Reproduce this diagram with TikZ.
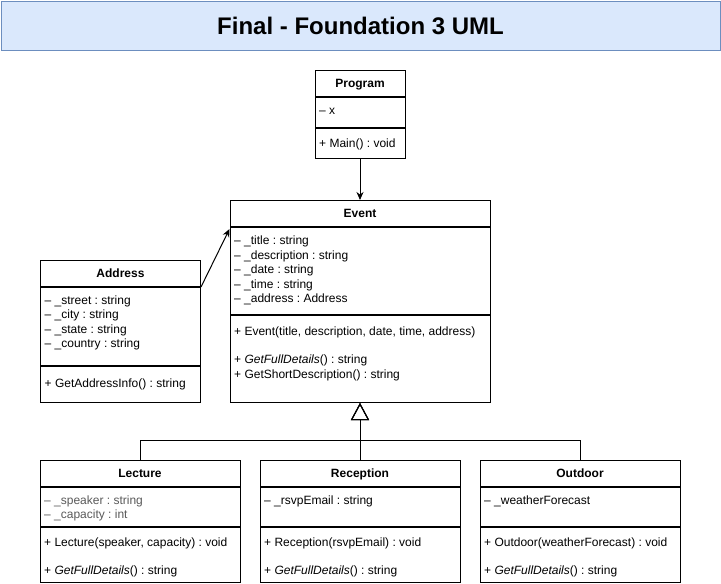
\documentclass[tikz,border=0pt]{standalone}
\usepackage{fontspec}
\setmainfont{Liberation Sans}
\usetikzlibrary{arrows.meta}
\definecolor{titlefill}{HTML}{DAE8FC}
\definecolor{titledraw}{HTML}{6C8EBF}
\definecolor{attrgray}{HTML}{5A5A5A}
\frenchspacing
\tikzset{
  titlebox/.style={draw=titledraw, fill=titlefill, line width=1pt, inner sep=0pt, font=\fontsize{24}{28}\selectfont\bfseries},
  hdr/.style={draw, line width=1pt, fill=white, inner sep=0pt, minimum height=26pt, text height=9pt, text depth=0.5pt, font=\fontsize{12}{14}\selectfont\bfseries},
  cmp/.style={draw, line width=1pt, fill=white, inner sep=0pt},
  txt/.style={anchor=base west, inner sep=0pt, font=\fontsize{12}{14}\selectfont},
  gtxt/.style={txt, text=attrgray},
  assoc/.style={line width=1pt, -{Stealth[length=8pt,width=7pt]}},
  inh/.style={line width=1pt, -{Triangle[open,length=17pt,width=18pt,line width=1pt]}}
}
\begin{document}
\begin{tikzpicture}[x=1pt,y=-1pt]
\useasboundingbox (0,0) rectangle (721,584);
\fill[white] (0,0) rectangle (721,584);

% title
\node[titlebox, minimum width=719pt, minimum height=49pt, anchor=north west] (title) at (0.5,0.5) {Final - Foundation 3 UML};

% Program
\node[hdr, minimum width=90pt, anchor=north] (progH) at (360,70) {Program};
\node[cmp, minimum width=90pt, minimum height=30pt, anchor=north] (progA) at (progH.south) {};
\node[cmp, minimum width=90pt, minimum height=30pt, anchor=north] (progM) at (progA.south) {};
\node[txt] (progA1) at (319,114.5) {\textendash{} x};
\node[txt] (progM1) at (319,147.5) {+ Main() : void};

% Event
\node[hdr, minimum width=260pt, anchor=north] (evH) at (360,200) {Event};
\node[cmp, minimum width=260pt, minimum height=87pt, anchor=north] (evA) at (evH.south) {};
\node[cmp, minimum width=260pt, minimum height=87pt, anchor=north] (evM) at (evA.south) {};
\node[txt] (evA1) at (234,244.5) {\textendash{} \_title : string};
\node[txt] (evA2) at (234,259) {\textendash{} \_description : string};
\node[txt] (evA3) at (234,273.5) {\textendash{} \_date : string};
\node[txt] (evA4) at (234,288) {\textendash{} \_time : string};
\node[txt] (evA5) at (234,302) {\textendash{} \_address : Address};
\node[txt] (evM1) at (234,335) {+ Event(title, description, date, time, address)};
\node[txt] (evM2) at (234,363.5) {+ \textit{GetFullDetails}() : string};
\node[txt] (evM3) at (234,378) {+ GetShortDescription() : string};

% Address
\node[hdr, minimum width=160pt, anchor=north] (adH) at (120.5,260) {Address};
\node[cmp, minimum width=160pt, minimum height=78pt, anchor=north] (adA) at (adH.south) {};
\node[cmp, minimum width=160pt, minimum height=36pt, anchor=north] (adM) at (adA.south) {};
\node[txt] (adA1) at (44.5,304) {\textendash{} \_street : string};
\node[txt] (adA2) at (44.5,318.5) {\textendash{} \_city : string};
\node[txt] (adA3) at (44.5,333) {\textendash{} \_state : string};
\node[txt] (adA4) at (44.5,347.5) {\textendash{} \_country : string};
\node[txt] (adM1) at (44.5,387) {+ GetAddressInfo() : string};

% Lecture
\node[hdr, minimum width=200pt, anchor=north] (lecH) at (140,460) {Lecture};
\node[cmp, minimum width=200pt, minimum height=39pt, anchor=north] (lecA) at (lecH.south) {};
\node[cmp, minimum width=200pt, minimum height=55pt, anchor=north] (lecM) at (lecA.south) {};
\node[gtxt] (lecA1) at (44,504) {\textendash{} \_speaker : string};
\node[gtxt] (lecA2) at (44,518.5) {\textendash{} \_capacity : int};
\node[txt] (lecM1) at (44,546) {+ Lecture(speaker, capacity) : void};
\node[txt] (lecM2) at (44,574) {+ \textit{GetFullDetails}() : string};

% Reception
\node[hdr, minimum width=200pt, anchor=north] (recH) at (360,460) {Reception};
\node[cmp, minimum width=200pt, minimum height=39pt, anchor=north] (recA) at (recH.south) {};
\node[cmp, minimum width=200pt, minimum height=55pt, anchor=north] (recM) at (recA.south) {};
\node[txt] (recA1) at (264,504) {\textendash{} \_rsvpEmail : string};
\node[txt] (recM1) at (264,546) {+ Reception(rsvpEmail) : void};
\node[txt] (recM2) at (264,574) {+ \textit{GetFullDetails}() : string};

% Outdoor
\node[hdr, minimum width=200pt, anchor=north] (outH) at (580,460) {Outdoor};
\node[cmp, minimum width=200pt, minimum height=39pt, anchor=north] (outA) at (outH.south) {};
\node[cmp, minimum width=200pt, minimum height=55pt, anchor=north] (outM) at (outA.south) {};
\node[txt] (outA1) at (484,504) {\textendash{} \_weatherForecast};
\node[txt] (outM1) at (484,546) {+ Outdoor(weatherForecast) : void};
\node[txt] (outM2) at (484,574) {+ \textit{GetFullDetails}() : string};

% connectors
\draw[assoc] (progM.south) -- (evH.north);
\draw[assoc] (adH.south east) -- ([yshift=-2pt]evH.south west);
\draw[inh] (lecH.north) -- ++(0,-20) -| (evM.south);
\draw[inh] (outH.north) -- ++(0,-20) -| (evM.south);
\draw[inh] (recH.north) -- (evM.south);
\end{tikzpicture}
\end{document}
